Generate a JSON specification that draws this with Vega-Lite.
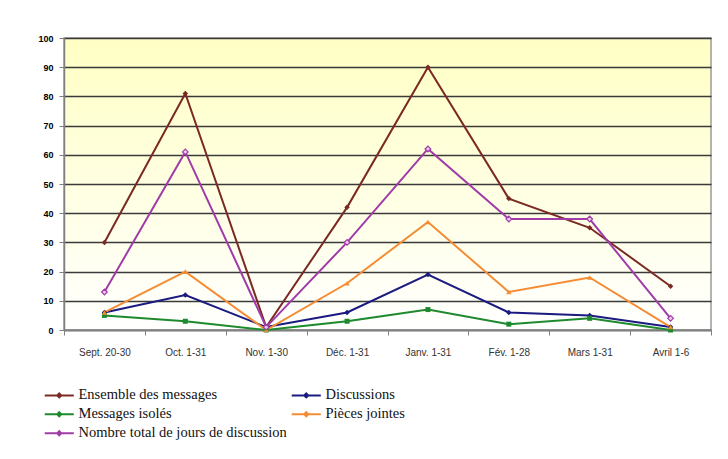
{
  "$schema": "https://vega.github.io/schema/vega-lite/v6.json",
  "width": 647,
  "height": 292,
  "autosize": {"type": "none"},
  "padding": {"left": 64, "top": 38, "right": 17, "bottom": 129},
  "background": "white",
  "config": {
    "view": {
      "stroke": "#9a9a9a",
      "strokeWidth": 1.5,
      "fill": {"gradient": "linear", "x1": 0, "y1": 0, "x2": 0, "y2": 1, "stops": [{"offset": 0, "color": "#FFFFC4"}, {"offset": 1, "color": "#FFFFFF"}]}
    }
  },
  "data": {
    "values": [
      {"i": 1, "p": "Sept. 20-30", "s": "Ensemble des messages", "v": 30},
      {"i": 2, "p": "Oct. 1-31", "s": "Ensemble des messages", "v": 81},
      {"i": 3, "p": "Nov. 1-30", "s": "Ensemble des messages", "v": 1},
      {"i": 4, "p": "Déc. 1-31", "s": "Ensemble des messages", "v": 42},
      {"i": 5, "p": "Janv. 1-31", "s": "Ensemble des messages", "v": 90},
      {"i": 6, "p": "Fév. 1-28", "s": "Ensemble des messages", "v": 45},
      {"i": 7, "p": "Mars 1-31", "s": "Ensemble des messages", "v": 35},
      {"i": 8, "p": "Avril 1-6", "s": "Ensemble des messages", "v": 15},
      {"i": 1, "p": "Sept. 20-30", "s": "Discussions", "v": 6},
      {"i": 2, "p": "Oct. 1-31", "s": "Discussions", "v": 12},
      {"i": 3, "p": "Nov. 1-30", "s": "Discussions", "v": 1},
      {"i": 4, "p": "Déc. 1-31", "s": "Discussions", "v": 6},
      {"i": 5, "p": "Janv. 1-31", "s": "Discussions", "v": 19},
      {"i": 6, "p": "Fév. 1-28", "s": "Discussions", "v": 6},
      {"i": 7, "p": "Mars 1-31", "s": "Discussions", "v": 5},
      {"i": 8, "p": "Avril 1-6", "s": "Discussions", "v": 1},
      {"i": 1, "p": "Sept. 20-30", "s": "Messages isolés", "v": 5},
      {"i": 2, "p": "Oct. 1-31", "s": "Messages isolés", "v": 3},
      {"i": 3, "p": "Nov. 1-30", "s": "Messages isolés", "v": 0},
      {"i": 4, "p": "Déc. 1-31", "s": "Messages isolés", "v": 3},
      {"i": 5, "p": "Janv. 1-31", "s": "Messages isolés", "v": 7},
      {"i": 6, "p": "Fév. 1-28", "s": "Messages isolés", "v": 2},
      {"i": 7, "p": "Mars 1-31", "s": "Messages isolés", "v": 4},
      {"i": 8, "p": "Avril 1-6", "s": "Messages isolés", "v": 0},
      {"i": 1, "p": "Sept. 20-30", "s": "Pièces jointes", "v": 6},
      {"i": 2, "p": "Oct. 1-31", "s": "Pièces jointes", "v": 20},
      {"i": 3, "p": "Nov. 1-30", "s": "Pièces jointes", "v": 0},
      {"i": 4, "p": "Déc. 1-31", "s": "Pièces jointes", "v": 16},
      {"i": 5, "p": "Janv. 1-31", "s": "Pièces jointes", "v": 37},
      {"i": 6, "p": "Fév. 1-28", "s": "Pièces jointes", "v": 13},
      {"i": 7, "p": "Mars 1-31", "s": "Pièces jointes", "v": 18},
      {"i": 8, "p": "Avril 1-6", "s": "Pièces jointes", "v": 1},
      {"i": 1, "p": "Sept. 20-30", "s": "Nombre total de jours de discussion", "v": 13},
      {"i": 2, "p": "Oct. 1-31", "s": "Nombre total de jours de discussion", "v": 61},
      {"i": 3, "p": "Nov. 1-30", "s": "Nombre total de jours de discussion", "v": 1},
      {"i": 4, "p": "Déc. 1-31", "s": "Nombre total de jours de discussion", "v": 30},
      {"i": 5, "p": "Janv. 1-31", "s": "Nombre total de jours de discussion", "v": 62},
      {"i": 6, "p": "Fév. 1-28", "s": "Nombre total de jours de discussion", "v": 38},
      {"i": 7, "p": "Mars 1-31", "s": "Nombre total de jours de discussion", "v": 38},
      {"i": 8, "p": "Avril 1-6", "s": "Nombre total de jours de discussion", "v": 4}
    ]
  },
  "encoding": {
    "x": {
      "field": "p",
      "type": "nominal",
      "bandPosition": 0.5,
      "sort": ["Sept. 20-30", "Oct. 1-31", "Nov. 1-30", "Déc. 1-31", "Janv. 1-31", "Fév. 1-28", "Mars 1-31", "Avril 1-6"],
      "scale": {"type": "band", "paddingInner": 0, "paddingOuter": 0},
      "axis": {
        "title": null,
        "labelAngle": 0,
        "labelFont": "Liberation Sans",
        "labelFontSize": 10,
        "labelColor": "#333333",
        "labelPadding": 12,
        "tickBand": "extent",
        "tickColor": "#808080",
        "tickSize": 5,
        "domainColor": "#808080",
        "domainWidth": 1.5,
        "grid": false
      }
    },
    "y": {
      "field": "v",
      "type": "quantitative",
      "scale": {"domain": [0, 100], "nice": false},
      "axis": {
        "title": null,
        "values": [0, 10, 20, 30, 40, 50, 60, 70, 80, 90, 100],
        "labelFont": "Liberation Sans",
        "labelFontSize": 9,
        "labelFontWeight": "bold",
        "labelColor": "#000000",
        "labelPadding": 6,
        "tickColor": "#808080",
        "tickSize": 5,
        "domainColor": "#808080",
        "domainWidth": 1.5,
        "grid": true,
        "gridColor": "#3a3a3a",
        "gridWidth": 1.5,
        "gridOpacity": 1
      }
    },
    "color": {
      "field": "s",
      "type": "nominal",
      "scale": {
        "domain": ["Ensemble des messages", "Discussions", "Messages isolés", "Pièces jointes", "Nombre total de jours de discussion"],
        "range": ["#7A2A22", "#1A1A80", "#1E8A2E", "#F58C34", "#A03CA8"]
      },
      "legend": {
        "orient": "none",
        "legendX": -12,
        "legendY": 350,
        "columns": 2,
        "title": null,
        "direction": "horizontal",
        "symbolType": "M-2.5,0L2.5,0M0,-0.35L0.35,0L0,0.35L-0.35,0Z",
        "symbolSize": 135,
        "symbolStrokeWidth": 2,
        "labelFont": "Liberation Serif, Times New Roman, serif",
        "labelFontSize": 14.5,
        "labelColor": "#111111",
        "labelOffset": 12,
        "rowPadding": 4,
        "columnPadding": 0,
        "labelLimit": 400
      }
    }
  },
  "layer": [
    {
      "mark": {"type": "line", "strokeWidth": 2},
      "encoding": {
        "order": {"field": "i", "type": "quantitative"},
        "detail": {"field": "s"}
      }
    },
    {
      "transform": [{"filter": {"field": "s", "oneOf": ["Ensemble des messages", "Discussions"]}}],
      "mark": {"type": "point", "shape": "diamond", "filled": true, "size": 30, "opacity": 1}
    },
    {
      "transform": [{"filter": {"field": "s", "equal": "Messages isolés"}}],
      "mark": {"type": "point", "shape": "square", "filled": true, "size": 25, "opacity": 1}
    },
    {
      "transform": [{"filter": {"field": "s", "equal": "Pièces jointes"}}],
      "mark": {"type": "point", "shape": "triangle-up", "filled": true, "size": 28, "opacity": 1}
    },
    {
      "transform": [{"filter": {"field": "s", "equal": "Nombre total de jours de discussion"}}],
      "mark": {"type": "point", "shape": "diamond", "filled": false, "fill": "#EBCDF0", "strokeWidth": 1.2, "size": 32, "opacity": 1}
    }
  ]
}
